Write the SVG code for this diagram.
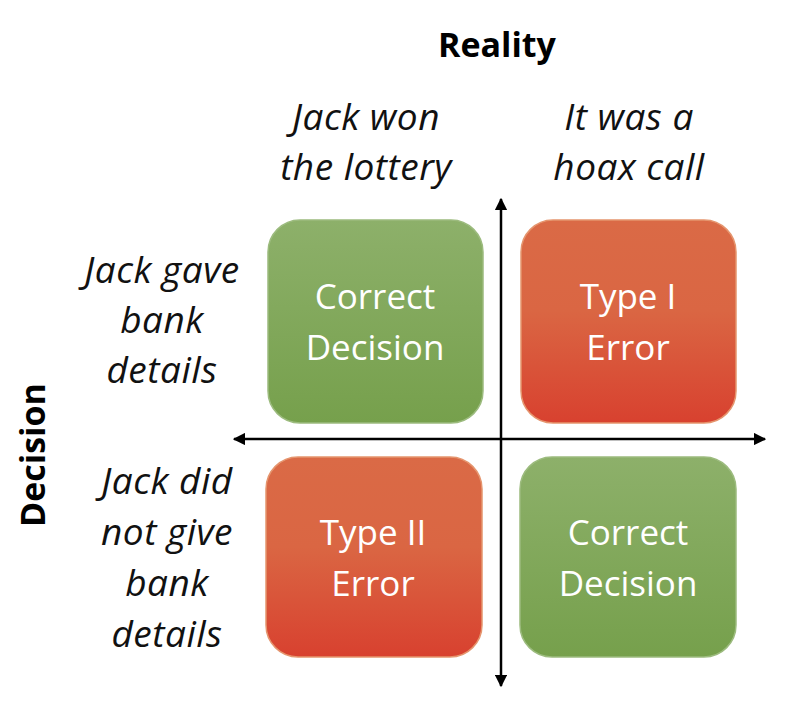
<svg xmlns="http://www.w3.org/2000/svg" width="788" height="704" viewBox="0 0 788 704">
<defs>
<linearGradient id="gGreen" x1="0" y1="0" x2="0" y2="1">
<stop offset="0" stop-color="#8DB06A"/>
<stop offset="1" stop-color="#76A04C"/>
</linearGradient>
<linearGradient id="gRed" x1="0" y1="0" x2="0" y2="1">
<stop offset="0" stop-color="#DA6A46"/>
<stop offset="0.45" stop-color="#DA6643"/>
<stop offset="1" stop-color="#D8412F"/>
</linearGradient>
<marker id="arr" viewBox="0 0 10 10" refX="9" refY="5" markerWidth="5" markerHeight="5" orient="auto-start-reverse" markerUnits="strokeWidth">
<path d="M0,0 L10,5 L0,10 z" fill="#000"/>
</marker>
<style>
.box-g{fill:url(#gGreen);stroke:#9CBB7E;stroke-width:1.5}
.box-r{fill:url(#gRed);stroke:#E5956E;stroke-width:1.5}
.bt{font-family:"Open Sans","Liberation Sans",sans-serif;font-size:35px;fill:#fff;text-anchor:middle}
.lab{font-family:"Open Sans","Liberation Sans",sans-serif;font-size:37px;letter-spacing:0.5px;font-style:italic;fill:#111;text-anchor:middle}
.head{font-family:"Open Sans","Liberation Sans",sans-serif;font-size:34px;font-weight:bold;fill:#000;text-anchor:middle}
.axis{stroke:#000;stroke-width:2.5;fill:none}
</style>
</defs>
<g id="headers">
<text class="head" x="497" y="57">Reality</text>
<text class="head" transform="translate(45,455) rotate(-90)">Decision</text>
<text class="lab" x="366" y="130">Jack won</text>
<text class="lab" x="366" y="180">the lottery</text>
<text class="lab" x="629" y="130">It was a</text>
<text class="lab" x="629" y="180">hoax call</text>
<text class="lab" x="162" y="283">Jack gave</text>
<text class="lab" x="162" y="333">bank</text>
<text class="lab" x="162" y="383">details</text>
<text class="lab" x="167" y="494">Jack did</text>
<text class="lab" x="167" y="545">not give</text>
<text class="lab" x="167" y="596">bank</text>
<text class="lab" x="167" y="647">details</text>
</g>
<g id="connectors">
<line class="axis" x1="501" y1="439" x2="501" y2="199" marker-end="url(#arr)"/>
<line class="axis" x1="501" y1="439" x2="501" y2="686" marker-end="url(#arr)"/>
<line class="axis" x1="501" y1="439" x2="234" y2="439" marker-end="url(#arr)"/>
<line class="axis" x1="501" y1="439" x2="765" y2="439" marker-end="url(#arr)"/>
</g>
<g id="node-tl">
<rect class="box-g" x="268" y="220" width="215" height="203" rx="32"/>
<text class="bt" x="375" y="309">Correct</text>
<text class="bt" x="375" y="360">Decision</text>
</g>
<g id="node-tr">
<rect class="box-r" x="521" y="220" width="215" height="203" rx="32"/>
<text class="bt" x="628" y="309">Type I</text>
<text class="bt" x="628" y="360">Error</text>
</g>
<g id="node-bl">
<rect class="box-r" x="266" y="457" width="216" height="200" rx="32"/>
<text class="bt" x="373" y="545">Type II</text>
<text class="bt" x="373" y="596">Error</text>
</g>
<g id="node-br">
<rect class="box-g" x="520" y="457" width="216" height="200" rx="32"/>
<text class="bt" x="628" y="545">Correct</text>
<text class="bt" x="628" y="596">Decision</text>
</g>
</svg>
